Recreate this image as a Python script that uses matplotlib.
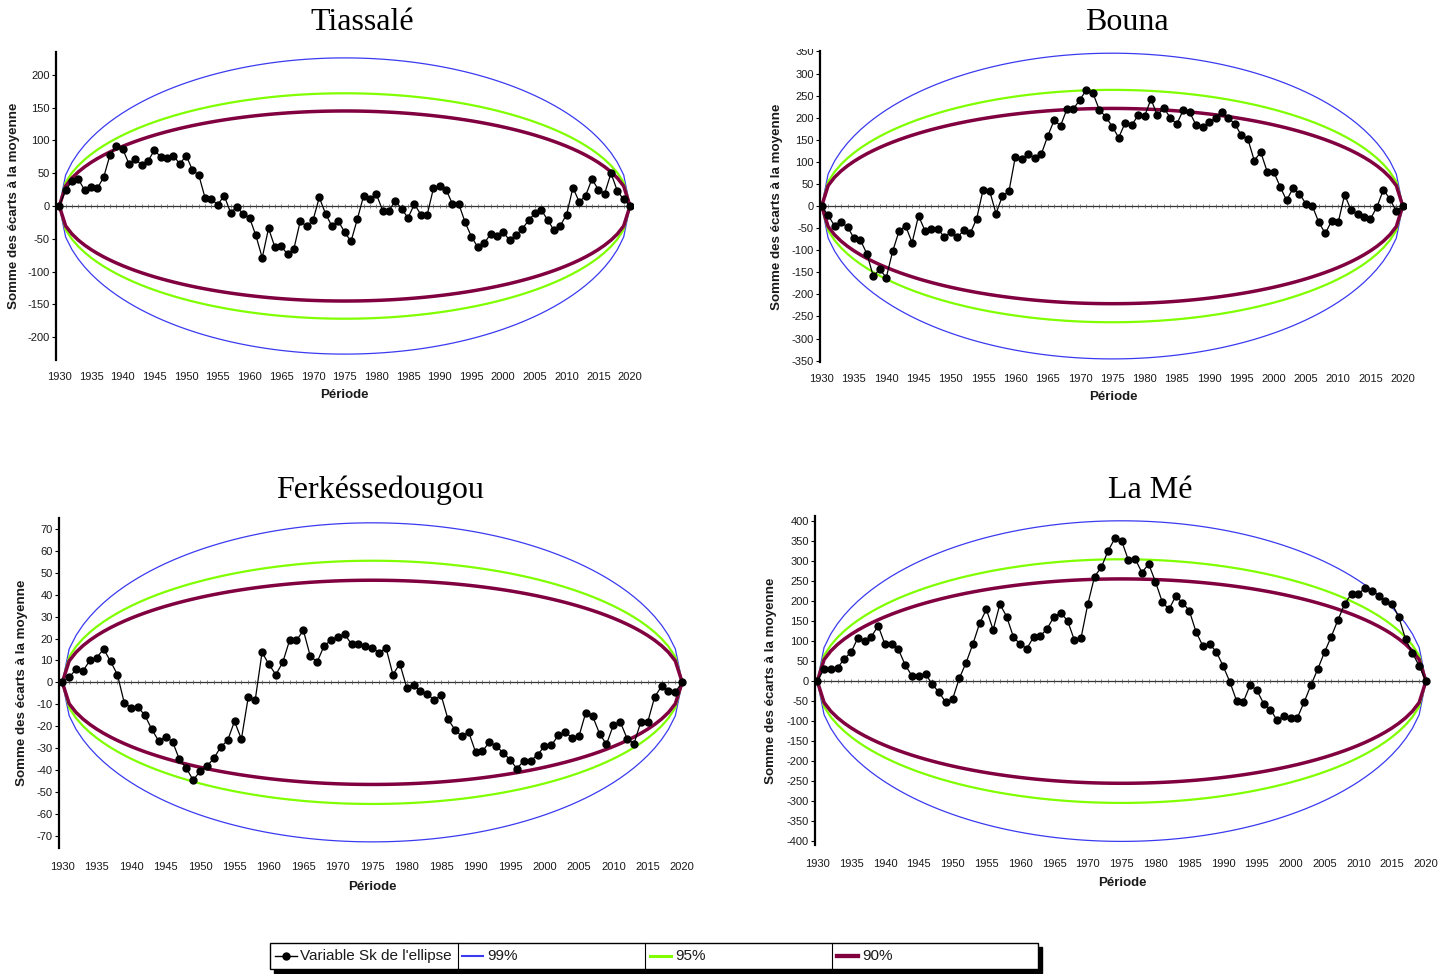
import numpy as np
import matplotlib
matplotlib.use('Agg')
import matplotlib.pyplot as plt
from matplotlib.lines import Line2D
from matplotlib.patches import Rectangle

plt.rcParams['axes.unicode_minus'] = False
plt.rcParams['font.family'] = ['Liberation Sans', 'DejaVu Sans']

# ---------------- data ----------------
years = np.arange(1930, 2021)

tiassale = [0, 24, 38, 41, 24, 29, 27, 44, 78, 92,
            87, 64, 72, 62, 69, 85, 75, 73, 77, 64,
            77, 55, 47, 12, 10, 2, 16, -10, -2, -12,
            -18, -45, -79, -34, -63, -61, -74, -65, -23, -31,
            -22, 13, -12, -31, -23, -40, -54, -20, 16, 10,
            18, -7, -7, 8, -5, -18, 3, -13, -14, 27,
            31, 25, 3, 3, -25, -47, -63, -57, -43, -46,
            -40, -52, -45, -35, -22, -11, -6, -21, -37, -30,
            -13, 28, 6, 16, 41, 25, 19, 50, 23, 10,
            0]

bouna = [0, -21, -45, -37, -47, -73, -77, -108, -159, -143,
         -162, -102, -56, -45, -83, -22, -56, -52, -51, -71,
         -59, -71, -55, -62, -29, 37, 35, -17, 23, 33,
         112, 106, 118, 108, 117, 158, 194, 182, 220, 220,
         241, 263, 256, 218, 202, 180, 155, 188, 183, 205,
         203, 242, 205, 223, 199, 186, 217, 212, 183, 178,
         190, 199, 214, 199, 186, 160, 152, 103, 122, 78,
         78, 44, 13, 40, 28, 5, 0, -37, -62, -33,
         -37, 26, -10, -19, -25, -29, -2, 37, 16, -12,
         0]

ferke = [0, 2.4, 5.9, 5.2, 10.0, 11.3, 15.2, 9.6, 3.5, -9.4,
         -11.6, -11.3, -15.1, -21.5, -26.8, -25.0, -27.0, -35.2, -39.1, -44.7,
         -40.5, -38.2, -34.7, -29.5, -26.5, -17.8, -25.9, -6.7, -8.2, 13.7,
         8.2, 3.5, 9.1, 19.2, 19.2, 23.7, 12.0, 9.3, 16.6, 19.2,
         20.7, 21.9, 17.4, 17.4, 16.7, 15.8, 13.5, 15.7, 3.5, 8.5,
         -2.4, -1.2, -4.1, -5.2, -8.2, -5.9, -16.9, -21.6, -24.7, -22.7,
         -31.8, -31.4, -27.3, -29.1, -32.1, -35.3, -39.4, -35.8, -35.9, -33.0,
         -29.2, -28.8, -24.2, -22.7, -25.3, -24.7, -13.8, -15.5, -23.4, -28.3,
         -19.6, -18.0, -25.7, -28.0, -18.0, -18.0, -6.7, -1.8, -4.0, -4.4,
         0]

lame = [0, 30, 29, 33, 56, 72, 108, 101, 111, 138,
        92, 92, 79, 40, 13, 13, 18, -8, -28, -53,
        -45, 7, 46, 92, 144, 179, 128, 192, 161, 110,
        92, 81, 111, 113, 131, 161, 170, 151, 103, 108,
        192, 261, 284, 325, 356, 350, 302, 305, 271, 292,
        248, 198, 179, 212, 196, 176, 123, 88, 93, 73,
        38, -2, -49, -52, -10, -23, -56, -71, -98, -87,
        -93, -91, -52, -10, 30, 72, 111, 153, 193, 218,
        218, 232, 226, 213, 200, 193, 159, 104, 70, 38,
        0]

# ellipse half-heights (99%, 95%, 90%) read at the centre of each panel
ellipse_labels = ['99%', '95%', '90%']
tiassale_ellipse = [226, 172, 145]
bouna_ellipse = [346, 263, 221]
ferke_ellipse = [72.8, 55.5, 46.6]
lame_ellipse = [400, 304, 255]

titles = ['Tiassalé', 'Bouna', 'Ferkéssedougou', 'La Mé']
xtick_labels = [str(y) for y in range(1930, 2021, 5)]
tiassale_yticks = list(range(-200, 201, 50))
bouna_yticks = list(range(-350, 351, 50))
ferke_yticks = list(range(-70, 71, 10))
lame_yticks = list(range(-400, 401, 50))

# ---------------- styling ----------------
W, H = 1438, 974
ell_colors = ['#3a3af0', '#80ff00', '#800040']
ell_widths = [0.9, 1.6, 2.5]
TXT = '#1a1a1a'

fig = plt.figure(figsize=(W / 100, H / 100), dpi=100)


def rect(l, r, t, b):
    return [l / W, 1 - b / H, (r - l) / W, (b - t) / H]


panels = [
    dict(series=tiassale, ell=tiassale_ellipse, yticks=tiassale_yticks,
         box=(56, 633, 52, 360), xlim=(1929.48, 2020.47), ylim=(-235, 235),
         title_xy=(362, 23), ylab_x=20, xpad=9, lpad=5),
    dict(series=bouna, ell=bouna_ellipse, yticks=bouna_yticks,
         box=(820, 1406, 51, 362), xlim=(1929.74, 2020.5), ylim=(-353, 351),
         title_xy=(1127, 23), ylab_x=783, xpad=9, lpad=5),
    dict(series=ferke, ell=ferke_ellipse, yticks=ferke_yticks,
         box=(59, 686, 518, 848), xlim=(1929.52, 2020.55), ylim=(-75.6, 75),
         title_xy=(380, 490), ylab_x=28, xpad=10, lpad=6.5),
    dict(series=lame, ell=lame_ellipse, yticks=lame_yticks,
         box=(815, 1430, 516, 845), xlim=(1929.66, 2020.6), ylim=(-409, 412),
         title_xy=(1150, 491), ylab_x=777, xpad=10, lpad=5.5),
]

for p, title in zip(panels, titles):
    l, r, t, b = p['box']
    ax = fig.add_axes(rect(l, r, t, b))
    yrs = years
    frac = np.sqrt((yrs - yrs[0]) * (yrs[-1] - yrs)) / ((yrs[-1] - yrs[0]) / 2)
    for A, c, lw, lab in zip(p['ell'], ell_colors, ell_widths, ellipse_labels):
        ax.plot(yrs, A * frac, color=c, lw=lw, zorder=2)
        ax.plot(yrs, -A * frac, color=c, lw=lw, zorder=2)
    ax.axhline(0, color='#333333', lw=0.9, zorder=1)
    ax.plot(yrs, np.zeros(len(yrs)), ls='none', marker='|', ms=2.5,
            mew=0.5, color='#555555', zorder=1)
    ax.plot(yrs, p['series'], color='black', lw=0.9, marker='o', ms=5,
            zorder=4)
    ax.set_xlim(*p['xlim'])
    ax.set_ylim(*p['ylim'])
    for s in ['top', 'right', 'bottom']:
        ax.spines[s].set_visible(False)
    ax.spines['left'].set_linewidth(1.6)
    ax.set_xticks(range(1930, 2021, 5))
    ax.set_xticklabels(xtick_labels)
    ax.set_yticks(p['yticks'])
    ax.tick_params(axis='x', length=0, pad=p['xpad'], labelsize=8,
                   labelcolor=TXT)
    ax.tick_params(axis='y', length=3, width=0.8, direction='out', pad=1.5,
                   labelsize=8, labelcolor=TXT)
    ax.set_xlabel('Période', fontsize=9.5, fontweight='bold',
                  labelpad=p['lpad'], color=TXT)
    ax.set_ylabel('Somme des écarts à la moyenne', fontsize=9.6,
                  fontweight='bold', color=TXT)
    ax.yaxis.set_label_coords((p['ylab_x'] - l) / (r - l), 0.5)
    ax.patch.set_alpha(0)
    tx, ty = p['title_xy']
    fig.text(tx / W, 1 - ty / H, title, ha='center', va='center',
             fontsize=23, family=['Liberation Serif', 'DejaVu Serif'])

# partially hidden top label on the Bouna panel
fig.add_artist(Rectangle((770 / W, 1 - 49 / H), 48 / W, 12 / H,
                         transform=fig.transFigure, facecolor='white',
                         edgecolor='none', zorder=10))

# ---------------- legend (table-like box) ----------------
def fx(x):
    return x / W


def fy(y):
    return 1 - y / H


lx0, lx1, ly0, ly1 = 270, 1038, 943, 969
fig.add_artist(Rectangle((fx(lx0 + 4), fy(ly1 + 4)), (lx1 - lx0) / W,
                         (ly1 - ly0) / H, transform=fig.transFigure,
                         facecolor='black', edgecolor='black', zorder=5))
fig.add_artist(Rectangle((fx(lx0), fy(ly1)), (lx1 - lx0) / W,
                         (ly1 - ly0) / H, transform=fig.transFigure,
                         facecolor='white', edgecolor='black', lw=1.0,
                         zorder=6))
for xd in [458, 645, 832]:
    fig.add_artist(Line2D([fx(xd), fx(xd)], [fy(ly0), fy(ly1)],
                          transform=fig.transFigure, color='black', lw=0.8,
                          zorder=7))

ymid = fy(956)
leg_font = dict(fontsize=11, va='center', ha='left', color=TXT,
                family=['Liberation Sans'], zorder=8)
fig.add_artist(Line2D([fx(275), fx(297)], [ymid, ymid],
                      transform=fig.transFigure, color='black', lw=1.0,
                      zorder=7))
fig.add_artist(Line2D([fx(286)], [ymid], transform=fig.transFigure,
                      color='black', marker='o', ms=5, zorder=8))
fig.text(fx(300), ymid, "Variable Sk de l'ellipse", **leg_font)
for x0, c, lw, lab in zip([462, 650, 837], ell_colors, ell_widths,
                          ellipse_labels):
    fig.add_artist(Line2D([fx(x0), fx(x0 + 21)], [ymid, ymid],
                          transform=fig.transFigure, color=c, lw=lw + 0.6,
                          zorder=7))
    fig.text(fx(x0 + 25), ymid, lab, **leg_font)

fig.savefig('out.png', dpi=100)
